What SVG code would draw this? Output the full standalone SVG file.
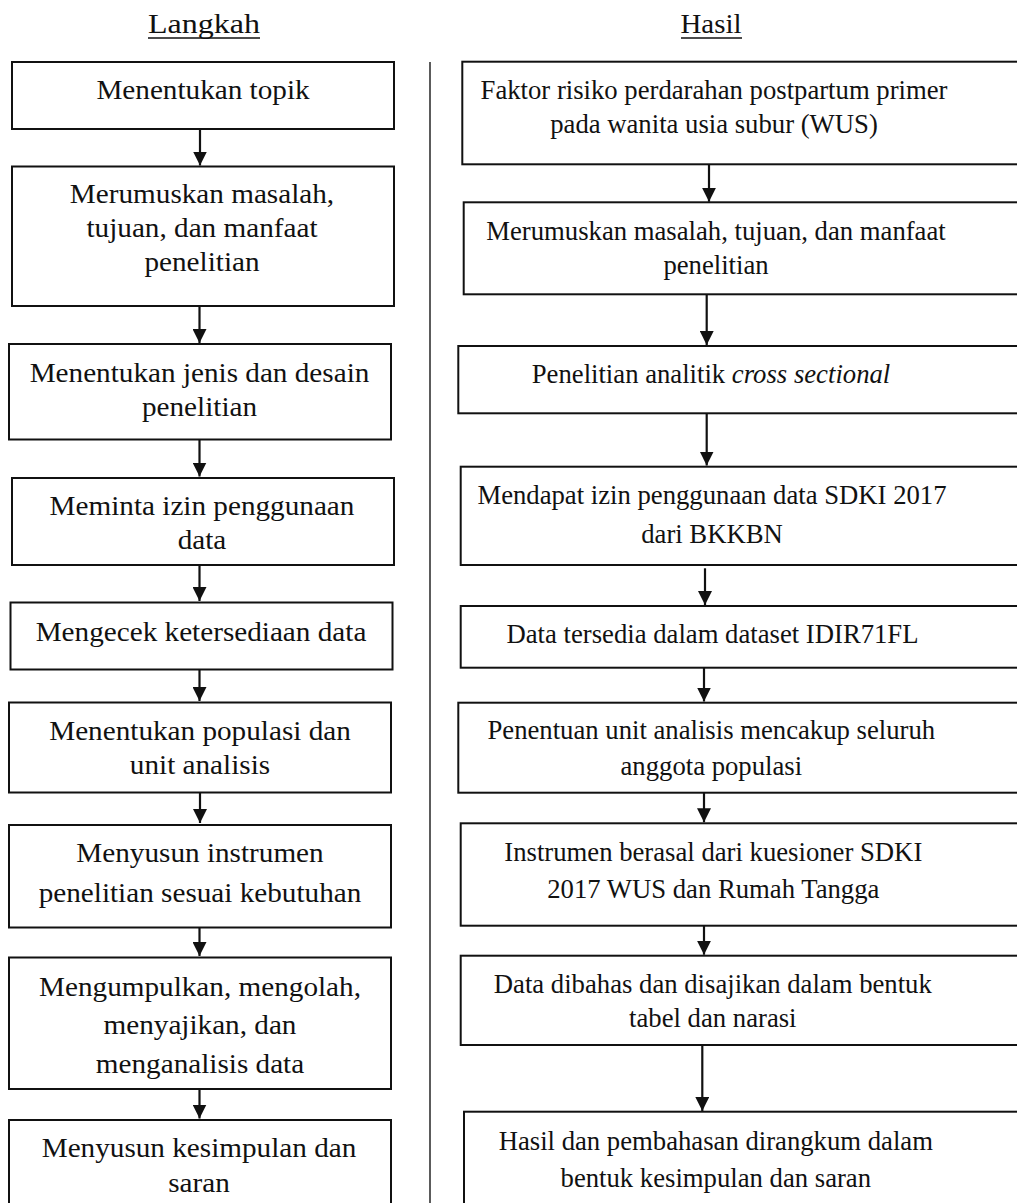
<svg xmlns="http://www.w3.org/2000/svg" width="1017" height="1203" viewBox="0 0 1017 1203">
<style>
.box{fill:#fff;stroke:#111;stroke-width:2}
.t{font-family:"Liberation Serif","Times New Roman",serif;font-size:26.7px;fill:#111;text-anchor:middle}
.h{font-family:"Liberation Serif","Times New Roman",serif;font-size:27.7px;fill:#111;text-anchor:middle}
.ul{stroke:#111;stroke-width:1.4}
.arr{stroke:#111;stroke-width:2.2;fill:none;marker-end:url(#ah)}
.div{stroke:#333;stroke-width:1.6}
</style>
<defs>
<marker id="ah" markerUnits="userSpaceOnUse" markerWidth="14" markerHeight="14" viewBox="0 0 14 14" refX="14" refY="7" orient="auto">
<path d="M0,0 L14,7 L0,14 z" fill="#111"/>
</marker>
</defs>
<rect width="1017" height="1203" fill="#fff"/>

<g id="headers">
<text class="h" x="204" y="33" textLength="112" lengthAdjust="spacingAndGlyphs">Langkah</text>
<line class="ul" x1="148" y1="38" x2="260" y2="38"/>
<text class="h" x="711" y="33" textLength="61" lengthAdjust="spacingAndGlyphs">Hasil</text>
<line class="ul" x1="681" y1="38" x2="742" y2="38"/>
</g>

<g id="divider"><line class="div" x1="430" y1="62" x2="430" y2="1203"/></g>

<g id="L1"><rect class="box" x="12" y="62" width="382" height="67"/>
<text class="t" transform="translate(203 0) scale(1.094 1)" x="0" y="99">Menentukan topik</text></g>
<g id="L2"><rect class="box" x="12" y="166.5" width="382" height="139.5"/>
<text class="t" transform="translate(202 0) scale(1.094 1)"><tspan x="0" y="203">Merumuskan masalah,</tspan><tspan x="0" y="237">tujuan, dan manfaat</tspan><tspan x="0" y="271.5">penelitian</tspan></text></g>
<g id="L3"><rect class="box" x="9" y="344" width="382" height="95.5"/>
<text class="t" transform="translate(199.5 0) scale(1.094 1)"><tspan x="0" y="381.7">Menentukan jenis dan desain</tspan><tspan x="0" y="415.7">penelitian</tspan></text></g>
<g id="L4"><rect class="box" x="12" y="478" width="382" height="87"/>
<text class="t" transform="translate(202 0) scale(1.094 1)"><tspan x="0" y="515">Meminta izin penggunaan</tspan><tspan x="0" y="549.3">data</tspan></text></g>
<g id="L5"><rect class="box" x="10.5" y="602.5" width="382" height="67"/>
<text class="t" transform="translate(201 0) scale(1.094 1)" x="0" y="640.7">Mengecek ketersediaan data</text></g>
<g id="L6"><rect class="box" x="9" y="702.5" width="382" height="90"/>
<text class="t" transform="translate(200 0) scale(1.094 1)"><tspan x="0" y="740">Menentukan populasi dan</tspan><tspan x="0" y="774">unit analisis</tspan></text></g>
<g id="L7"><rect class="box" x="9" y="825" width="382" height="102.5"/>
<text class="t" transform="translate(200 0) scale(1.094 1)"><tspan x="0" y="862.3">Menyusun instrumen</tspan><tspan x="0" y="901.7">penelitian sesuai kebutuhan</tspan></text></g>
<g id="L8"><rect class="box" x="9" y="957.5" width="382" height="131.5"/>
<text class="t" transform="translate(200 0) scale(1.094 1)"><tspan x="0" y="995.7">Mengumpulkan, mengolah,</tspan><tspan x="0" y="1034.3">menyajikan, dan</tspan><tspan x="0" y="1073.3">menganalisis data</tspan></text></g>
<g id="L9"><rect class="box" x="9" y="1120" width="382" height="100"/>
<text class="t" transform="translate(199 0) scale(1.094 1)"><tspan x="0" y="1157.3">Menyusun kesimpulan dan</tspan><tspan x="0" y="1191.7">saran</tspan></text></g>

<g id="R1"><rect class="box" x="462.3" y="61.7" width="570" height="102.6"/>
<text class="t"><tspan x="714" y="99.3">Faktor risiko perdarahan postpartum primer</tspan><tspan x="714" y="133.3">pada wanita usia subur (WUS)</tspan></text></g>
<g id="R2"><rect class="box" x="463.7" y="202.3" width="570" height="92"/>
<text class="t"><tspan x="716" y="240">Merumuskan masalah, tujuan, dan manfaat</tspan><tspan x="716" y="274.3">penelitian</tspan></text></g>
<g id="R3"><rect class="box" x="458.3" y="346" width="570" height="67.3"/>
<text class="t" x="711" y="383.3">Penelitian analitik <tspan font-style="italic">cross sectional</tspan></text></g>
<g id="R4"><rect class="box" x="460.7" y="466.7" width="570" height="98.3"/>
<text class="t"><tspan x="712" y="504">Mendapat izin penggunaan data SDKI 2017</tspan><tspan x="712" y="542.7">dari BKKBN</tspan></text></g>
<g id="R5"><rect class="box" x="460.7" y="606" width="570" height="61.7"/>
<text class="t" x="712.5" y="643.3">Data tersedia dalam dataset IDIR71FL</text></g>
<g id="R6"><rect class="box" x="458.3" y="702.7" width="570" height="90"/>
<text class="t"><tspan x="711.3" y="739.3">Penentuan unit analisis mencakup seluruh</tspan><tspan x="711.3" y="775">anggota populasi</tspan></text></g>
<g id="R7"><rect class="box" x="460.7" y="823.3" width="570" height="102.4"/>
<text class="t"><tspan x="713.3" y="860.7">Instrumen berasal dari kuesioner SDKI</tspan><tspan x="713.3" y="898.3">2017 WUS dan Rumah Tangga</tspan></text></g>
<g id="R8"><rect class="box" x="460.7" y="955.7" width="570" height="89.3"/>
<text class="t"><tspan x="712.8" y="993.3">Data dibahas dan disajikan dalam bentuk</tspan><tspan x="712.8" y="1027.3">tabel dan narasi</tspan></text></g>
<g id="R9"><rect class="box" x="464" y="1111.7" width="570" height="110"/>
<text class="t"><tspan x="715.8" y="1150">Hasil dan pembahasan dirangkum dalam</tspan><tspan x="715.8" y="1187.3">bentuk kesimpulan dan saran</tspan></text></g>

<g id="connectors">
<line class="arr" x1="200" y1="129" x2="200" y2="165.5"/>
<line class="arr" x1="199.5" y1="306" x2="199.5" y2="343"/>
<line class="arr" x1="199.5" y1="439.5" x2="199.5" y2="476.5"/>
<line class="arr" x1="199.5" y1="565" x2="199.5" y2="601"/>
<line class="arr" x1="199.5" y1="669.5" x2="199.5" y2="701"/>
<line class="arr" x1="200" y1="792.5" x2="200" y2="823"/>
<line class="arr" x1="199.5" y1="927.5" x2="199.5" y2="956"/>
<line class="arr" x1="199.5" y1="1089" x2="199.5" y2="1118.5"/>
<line class="arr" x1="709" y1="164.3" x2="709" y2="201.7"/>
<line class="arr" x1="706.7" y1="294.3" x2="706.7" y2="345"/>
<line class="arr" x1="706.7" y1="413.3" x2="706.7" y2="465.5"/>
<line class="arr" x1="705" y1="568.3" x2="705" y2="605"/>
<line class="arr" x1="704" y1="667.7" x2="704" y2="701.5"/>
<line class="arr" x1="704" y1="792.7" x2="704" y2="822.3"/>
<line class="arr" x1="704" y1="925.7" x2="704" y2="954.7"/>
<line class="arr" x1="702.3" y1="1045" x2="702.3" y2="1111"/>
</g>
</svg>
